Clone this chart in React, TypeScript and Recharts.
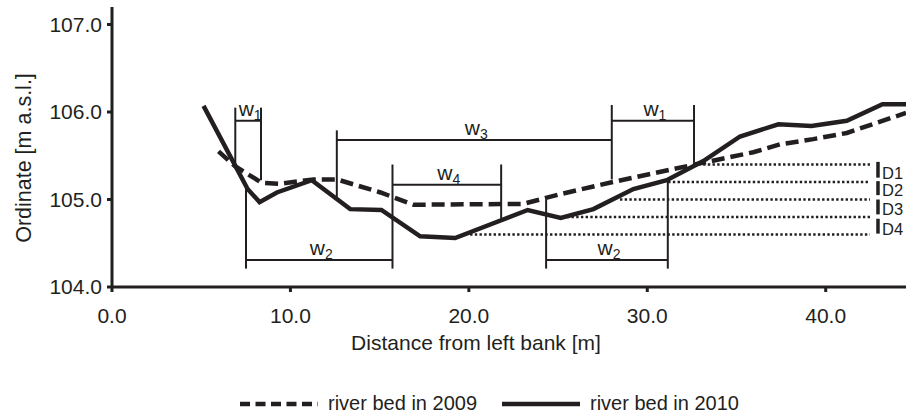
import { LineChart, Line, XAxis, YAxis, ReferenceLine, Legend } from 'recharts'

const INK = '#231f20'
const FONT = '"Liberation Sans", Arial, Helvetica, sans-serif'

// cross-section profiles, distance [m] / ordinate [m a.s.l.]
const dist2009 = [5.97, 6.9, 8.4, 9.4, 11.3, 12.6, 15.05, 16.9, 23.05, 25.1, 28.07, 32.66, 35.94, 37.44, 39.3, 41.18, 44.5]
const elev2009 = [105.55, 105.38, 105.19, 105.18, 105.23, 105.23, 105.08, 104.94, 104.95, 105.06, 105.2, 105.4, 105.54, 105.63, 105.69, 105.76, 105.99]

const dist2010 = [5.13, 7.6, 8.27, 9.24, 11.2, 13.35, 15.1, 17.27, 19.23, 23.3, 25.15, 26.98, 29.22, 31.09, 33.14, 35.2, 37.35, 39.2, 41.18, 43.18, 44.5]
const elev2010 = [106.07, 105.12, 104.97, 105.08, 105.22, 104.89, 104.88, 104.58, 104.56, 104.88, 104.79, 104.89, 105.12, 105.22, 105.44, 105.72, 105.86, 105.84, 105.9, 106.09, 106.09]

const xTicks = [0, 10, 20, 30, 40]
const yTicks = [104, 105, 106, 107]

// width brackets: bar from x1 to x2 at level y, subscript label
const barX1 = [6.91, 7.51, 12.6, 15.72, 28.01, 24.33]
const barX2 = [8.35, 15.72, 28.01, 21.81, 32.62, 31.15]
const barY = [105.9, 104.31, 105.68, 105.17, 105.9, 104.31]
const barSub = ['1', '2', '3', '4', '1', '2']

// bracket posts: x, top, bottom
const postX = [6.91, 8.35, 7.51, 15.72, 12.6, 21.81, 28.01, 32.62, 24.33, 31.15]
const postTop = [106.05, 106.05, 105.18, 105.4, 105.79, 105.4, 106.08, 106.08, 105.0, 105.22]
const postBottom = [105.38, 105.22, 104.21, 104.21, 105.03, 104.78, 105.23, 105.42, 104.21, 104.21]

// water levels
const levelY = [105.4, 105.2, 105.0, 104.8, 104.6]
const levelStart = [33.13, 31.17, 28.47, 25.49, 20.07]
const levelEnd = 42.48

// depth marks
const depthX = 42.93
const depthTop = [105.43, 105.21, 105.0, 104.78]
const depthBottom = [105.25, 105.05, 104.83, 104.61]
const depthNames = ['D1', 'D2', 'D3', 'D4']

const bed2009 = dist2009.map((x, i) => ({ x, y: elev2009[i] }))
const bed2010 = dist2010.map((x, i) => ({ x, y: elev2010[i] }))

const WLabel = ({ viewBox, sub }: any) => {
  if (!viewBox) return null
  const cx = viewBox.x + viewBox.width / 2 + 2
  return (
    <text x={cx} y={viewBox.y - 5} textAnchor="middle" fontFamily={FONT} fontSize={21} fill={INK}>
      w<tspan fontSize={14} dy={4}>{sub}</tspan>
    </text>
  )
}

const DLabel = ({ viewBox, name }: any) => {
  if (!viewBox) return null
  return (
    <text x={viewBox.x + 4} y={viewBox.y + viewBox.height + 1} fontFamily={FONT} fontSize={16.5} fill={INK}>
      {name}
    </text>
  )
}

const YTitle = ({ viewBox }: any) => {
  const cx = viewBox.x + 24
  const cy = viewBox.y + viewBox.height / 2 + 11
  return (
    <text x={cx} y={cy} transform={`rotate(-90 ${cx} ${cy})`} textAnchor="middle" dominantBaseline="central"
      fontFamily={FONT} fontSize={21.5} fill={INK}>
      Ordinate [m a.s.l.]
    </text>
  )
}

const XTitle = ({ viewBox }: any) => (
  <text x={viewBox.x + viewBox.width / 2 - 33} y={viewBox.y + 63} textAnchor="middle"
    fontFamily={FONT} fontSize={21} fill={INK}>
    Distance from left bank [m]
  </text>
)

const renderLegend = () => (
  <div style={{ display: 'flex', justifyContent: 'center', alignItems: 'center', marginLeft: 73,
    marginTop: 3, fontFamily: FONT, fontSize: 20, color: INK, gap: 10 }}>
    <svg width={78} height={10}>
      <line x1={0} y1={5} x2={78} y2={5} stroke={INK} strokeWidth={4.5} strokeDasharray="10 5.5" />
    </svg>
    <span style={{ marginRight: 15 }}>river bed in 2009</span>
    <svg width={78} height={10}>
      <line x1={0} y1={5} x2={78} y2={5} stroke={INK} strokeWidth={4.5} />
    </svg>
    <span>river bed in 2010</span>
  </div>
)

const tickStyle = { fontFamily: FONT, fontSize: 21, fill: INK }

export default function App() {
  return (
    <div style={{ position: 'absolute', left: 0, top: 0, width: 906, height: 419, background: '#fff' }}>
      <LineChart width={906} height={419} margin={{ top: 7, right: 0, left: 0, bottom: 4 }}>
        <XAxis
          type="number"
          dataKey="x"
          domain={[0, 44.5]}
          ticks={xTicks}
          tickFormatter={(v: number) => v.toFixed(1)}
          tick={tickStyle}
          tickSize={5}
          tickMargin={16}
          tickLine={{ stroke: INK, strokeWidth: 3 }}
          axisLine={{ stroke: INK, strokeWidth: 3 }}
          height={102}
          label={<XTitle />}
        />
        <YAxis
          type="number"
          domain={[104, 107.2]}
          ticks={yTicks}
          tickFormatter={(v: number) => v.toFixed(1)}
          tick={tickStyle}
          tickSize={5}
          tickMargin={5}
          tickLine={{ stroke: INK, strokeWidth: 3 }}
          axisLine={{ stroke: INK, strokeWidth: 3 }}
          width={112}
          label={<YTitle />}
        />
        <Legend verticalAlign="bottom" height={26} content={renderLegend} />

        {levelY.map((y, i) => (
          <ReferenceLine key={`lv${i}`} segment={[{ x: levelStart[i], y }, { x: levelEnd, y }]}
            stroke={INK} strokeWidth={2.5} strokeDasharray="2.4 2.3" />
        ))}
        {depthTop.map((y, i) => (
          <ReferenceLine key={`d${i}`} segment={[{ x: depthX, y }, { x: depthX, y: depthBottom[i] }]}
            stroke={INK} strokeWidth={3.5} label={<DLabel name={depthNames[i]} />} />
        ))}
        {postX.map((x, i) => (
          <ReferenceLine key={`p${i}`} segment={[{ x, y: postTop[i] }, { x, y: postBottom[i] }]}
            stroke={INK} strokeWidth={2} />
        ))}
        {barX1.map((x1, i) => (
          <ReferenceLine key={`b${i}`} segment={[{ x: x1, y: barY[i] }, { x: barX2[i], y: barY[i] }]}
            stroke={INK} strokeWidth={2} label={<WLabel sub={barSub[i]} />} />
        ))}

        <Line data={bed2009} dataKey="y" name="river bed in 2009" stroke={INK} strokeWidth={4.5}
          strokeDasharray="13 6" dot={false} activeDot={false} isAnimationActive={false}
          strokeLinejoin="miter" />
        <Line data={bed2010} dataKey="y" name="river bed in 2010" stroke={INK} strokeWidth={4.5}
          dot={false} activeDot={false} isAnimationActive={false} strokeLinejoin="miter" />
      </LineChart>
    </div>
  )
}
